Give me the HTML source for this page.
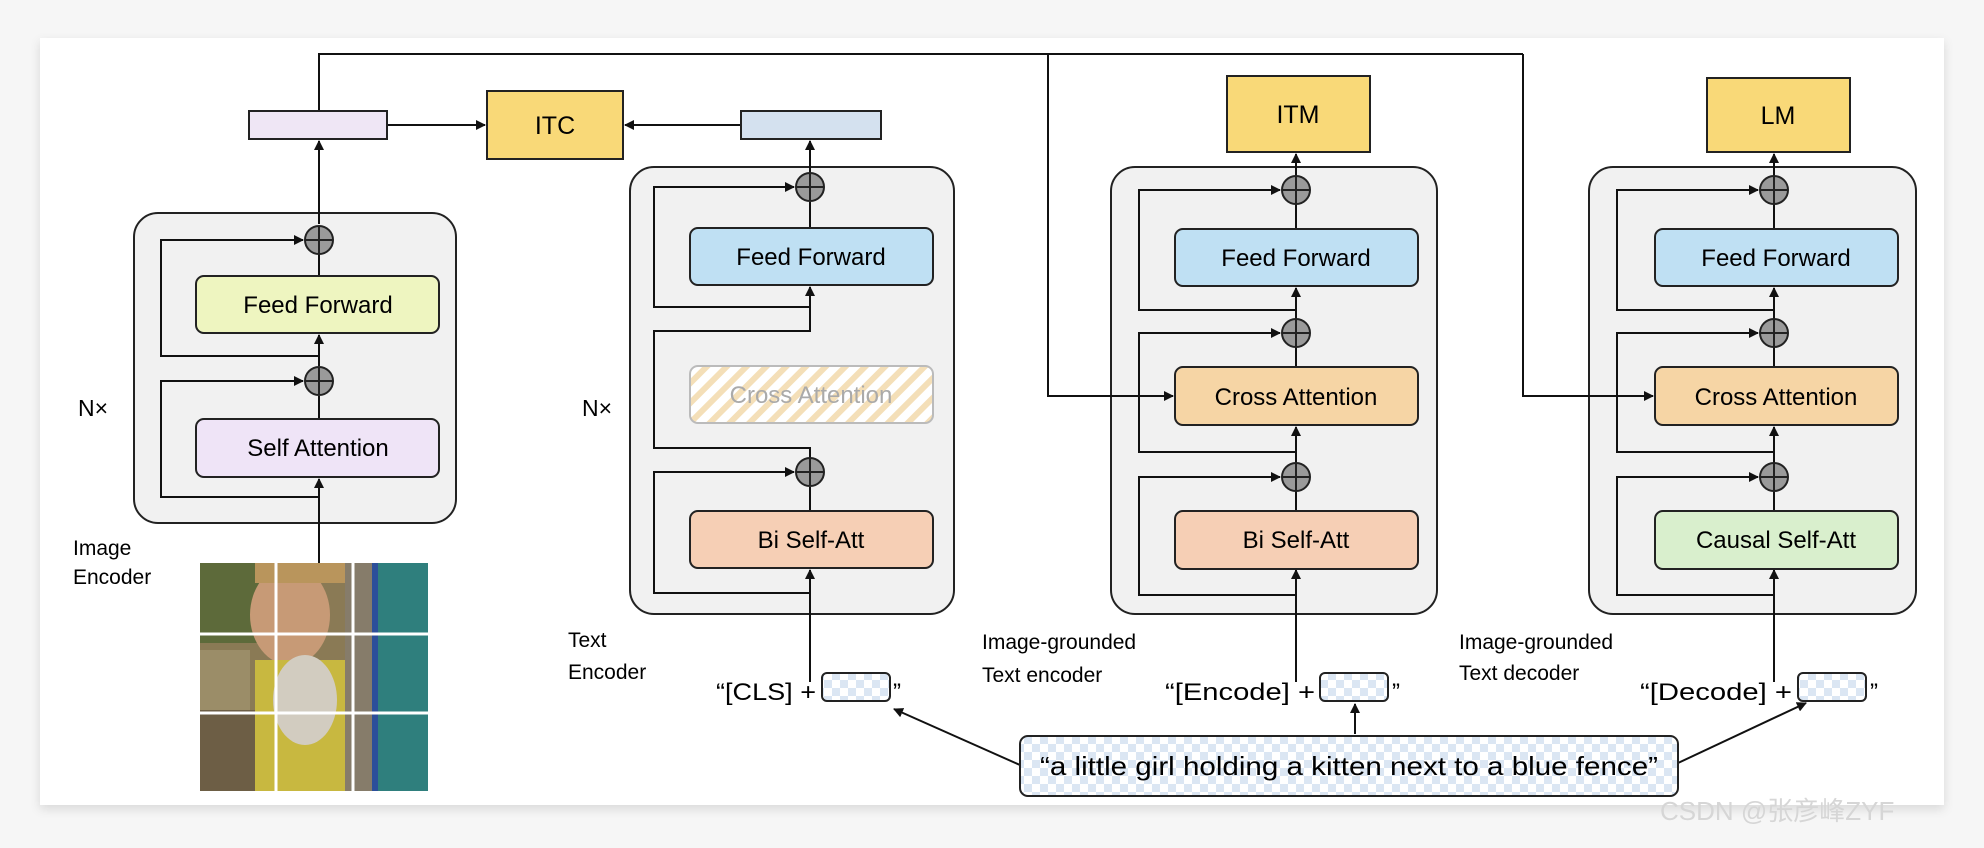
<!DOCTYPE html>
<html><head><meta charset="utf-8"><style>
html,body{margin:0;padding:0;background:#f6f6f6;}
svg{display:block;}
text{font-family:"Liberation Sans","Noto Sans CJK SC",sans-serif;}
</style></head><body>
<svg width="1984" height="848" viewBox="0 0 1984 848" xmlns="http://www.w3.org/2000/svg">
<defs>
<marker id="a" markerWidth="10" markerHeight="10" refX="9" refY="5" orient="auto" markerUnits="userSpaceOnUse"><path d="M0,0 L10,5 L0,10 z" fill="#111"/></marker>
<pattern id="hatch" width="14" height="14" patternUnits="userSpaceOnUse" patternTransform="rotate(45)"><rect width="14" height="14" fill="#fff"/><rect width="6" height="14" fill="#f4dfb8"/></pattern>
<pattern id="chk" width="16" height="16" patternUnits="userSpaceOnUse"><rect width="16" height="16" fill="#fff"/><rect width="8" height="8" fill="#dbe6f3"/><rect x="8" y="8" width="8" height="8" fill="#dbe6f3"/></pattern>
<filter id="sh" x="-5%" y="-5%" width="110%" height="115%"><feDropShadow dx="0" dy="4" stdDeviation="5" flood-color="#000" flood-opacity="0.12"/></filter>
<g id="plus"><circle r="14" fill="#9a9a9a" stroke="#222" stroke-width="2"/><path d="M-14,0 H14 M0,-14 V14" stroke="#222" stroke-width="2"/></g>
</defs>
<rect x="40" y="38" width="1904" height="767" fill="#fff" filter="url(#sh)"/>

<g stroke="#111" stroke-width="2" fill="none">
<path d="M319,111 V54 H1523"/>
<path d="M387,125 H485" marker-end="url(#a)"/>
<path d="M741,125 H625" marker-end="url(#a)"/>
</g>

<!-- top boxes -->
<rect x="249" y="111" width="138" height="28" fill="#efe6f5" stroke="#222" stroke-width="2"/>
<rect x="741" y="111" width="140" height="28" fill="#d4e1ef" stroke="#222" stroke-width="2"/>
<rect x="487" y="91" width="136" height="68" fill="#f9d978" stroke="#222" stroke-width="2"/>
<text x="555" y="134" font-size="25" text-anchor="middle">ITC</text>
<rect x="1227" y="76" width="143" height="76" fill="#f9d978" stroke="#222" stroke-width="2"/>
<text x="1298" y="123" font-size="25" text-anchor="middle">ITM</text>
<rect x="1707" y="78" width="143" height="74" fill="#f9d978" stroke="#222" stroke-width="2"/>
<text x="1778" y="124" font-size="25" text-anchor="middle">LM</text>

<!-- blocks -->
<g fill="#f1f1f1" stroke="#222" stroke-width="2">
<rect x="134" y="213" width="322" height="310" rx="24"/>
<rect x="630" y="167" width="324" height="447" rx="24"/>
<rect x="1111" y="167" width="326" height="447" rx="24"/>
<rect x="1589" y="167" width="327" height="447" rx="24"/>
</g>

<g stroke="#111" stroke-width="2" fill="none">
<path d="M1523,54 V396 H1653" marker-end="url(#a)"/>
<path d="M1048,54 V396 H1173" marker-end="url(#a)"/>
</g>

<!-- image encoder -->
<g stroke="#111" stroke-width="2" fill="none">
<path d="M319,563 V479" marker-end="url(#a)"/>
<path d="M319,419 V396"/>
<path d="M319,366 V335" marker-end="url(#a)"/>
<path d="M319,276 V252"/>
<path d="M319,224 V141" marker-end="url(#a)"/>
<path d="M319,497 H161 V381 H303" marker-end="url(#a)"/>
<path d="M319,356 H161 V240 H303" marker-end="url(#a)"/>
</g>
<rect x="196" y="276" width="243" height="57" rx="8" fill="#eef5c0" stroke="#222" stroke-width="2"/>
<text x="318" y="313" font-size="24" text-anchor="middle">Feed Forward</text>
<rect x="196" y="419" width="243" height="58" rx="8" fill="#efe4f7" stroke="#222" stroke-width="2"/>
<text x="318" y="456" font-size="24" text-anchor="middle">Self Attention</text>
<use href="#plus" x="319" y="240"/><use href="#plus" x="319" y="381"/>
<text x="78" y="416" font-size="23">N×</text>
<text x="73" y="555" font-size="21">Image</text>
<text x="73" y="584" font-size="21">Encoder</text>

<!-- photo -->
<g>
<rect x="200" y="563" width="228" height="228" fill="#8a7a55"/>
<rect x="200" y="563" width="60" height="80" fill="#5d6a3a"/>
<rect x="200" y="650" width="50" height="60" fill="#9b8d68"/>
<rect x="200" y="710" width="60" height="81" fill="#6d5e45"/>
<ellipse cx="290" cy="615" rx="40" ry="50" fill="#c79a76"/>
<rect x="255" y="660" width="90" height="131" fill="#c8b840"/>
<ellipse cx="305" cy="700" rx="32" ry="45" fill="#d2ccc0"/>
<rect x="255" y="563" width="90" height="20" fill="#b9955c"/>
<rect x="345" y="563" width="30" height="228" fill="#867c6a"/>
<rect x="375" y="563" width="53" height="228" fill="#2f7f7d"/>
<rect x="372" y="563" width="6" height="228" fill="#2c4f9a"/>
<g stroke="#fff" stroke-width="3"><path d="M276,563 V791 M353,563 V791 M200,634 H428 M200,713 H428"/></g>
</g>

<!-- text encoder -->
<g stroke="#111" stroke-width="2" fill="none">
<path d="M810,682 V570" marker-end="url(#a)"/>
<path d="M810,511 V487"/>
<path d="M810,458 V448 H654 V331 H810 V287" marker-end="url(#a)"/>
<path d="M810,228 V202"/>
<path d="M810,173 V141" marker-end="url(#a)"/>
<path d="M810,593 H654 V472 H794" marker-end="url(#a)"/>
<path d="M810,307 H654 V187 H794" marker-end="url(#a)"/>
</g>
<rect x="690" y="228" width="243" height="57" rx="8" fill="#bfe0f3" stroke="#222" stroke-width="2"/>
<text x="811" y="265" font-size="24" text-anchor="middle">Feed Forward</text>
<rect x="690" y="366" width="243" height="57" rx="8" fill="url(#hatch)" stroke="#bbb" stroke-width="2"/>
<text x="811" y="403" font-size="24" text-anchor="middle" fill="#aaa">Cross Attention</text>
<rect x="690" y="511" width="243" height="57" rx="8" fill="#f6cfb5" stroke="#222" stroke-width="2"/>
<text x="811" y="548" font-size="24" text-anchor="middle">Bi Self-Att</text>
<use href="#plus" x="810" y="187"/><use href="#plus" x="810" y="472"/>
<text x="582" y="416" font-size="23">N×</text>
<text x="568" y="647" font-size="21">Text</text>
<text x="568" y="679" font-size="21">Encoder</text>
<text x="716" y="700" font-size="24" textLength="100" lengthAdjust="spacingAndGlyphs">“[CLS] +</text>
<rect x="822" y="673" width="68" height="28" rx="5" fill="url(#chk)" stroke="#222" stroke-width="2"/>
<text x="893" y="700" font-size="24">”</text>

<!-- ITM block -->
<g stroke="#111" stroke-width="2" fill="none">
<path d="M1296,682 V570" marker-end="url(#a)"/>
<path d="M1296,511 V491"/>
<path d="M1296,463 V427" marker-end="url(#a)"/>
<path d="M1296,367 V347"/>
<path d="M1296,319 V288" marker-end="url(#a)"/>
<path d="M1296,229 V204"/>
<path d="M1296,176 V154" marker-end="url(#a)"/>
<path d="M1296,595 H1139 V477 H1280" marker-end="url(#a)"/>
<path d="M1296,452 H1139 V333 H1280" marker-end="url(#a)"/>
<path d="M1296,310 H1139 V190 H1280" marker-end="url(#a)"/>
</g>
<rect x="1175" y="229" width="243" height="57" rx="8" fill="#bfe0f3" stroke="#222" stroke-width="2"/>
<text x="1296" y="266" font-size="24" text-anchor="middle">Feed Forward</text>
<rect x="1175" y="367" width="243" height="58" rx="8" fill="#f6d5a5" stroke="#222" stroke-width="2"/>
<text x="1296" y="405" font-size="24" text-anchor="middle">Cross Attention</text>
<rect x="1175" y="511" width="243" height="58" rx="8" fill="#f6cfb5" stroke="#222" stroke-width="2"/>
<text x="1296" y="548" font-size="24" text-anchor="middle">Bi Self-Att</text>
<use href="#plus" x="1296" y="190"/><use href="#plus" x="1296" y="333"/><use href="#plus" x="1296" y="477"/>
<text x="982" y="649" font-size="21">Image-grounded</text>
<text x="982" y="682" font-size="21">Text encoder</text>
<text x="1165" y="700" font-size="24" textLength="150" lengthAdjust="spacingAndGlyphs">“[Encode] +</text>
<rect x="1320" y="673" width="68" height="28" rx="5" fill="url(#chk)" stroke="#222" stroke-width="2"/>
<text x="1392" y="700" font-size="24">”</text>

<!-- LM block -->
<g stroke="#111" stroke-width="2" fill="none">
<path d="M1774,682 V570" marker-end="url(#a)"/>
<path d="M1774,511 V491"/>
<path d="M1774,463 V427" marker-end="url(#a)"/>
<path d="M1774,367 V347"/>
<path d="M1774,319 V288" marker-end="url(#a)"/>
<path d="M1774,229 V204"/>
<path d="M1774,176 V154" marker-end="url(#a)"/>
<path d="M1774,595 H1617 V477 H1758" marker-end="url(#a)"/>
<path d="M1774,452 H1617 V333 H1758" marker-end="url(#a)"/>
<path d="M1774,310 H1617 V190 H1758" marker-end="url(#a)"/>
</g>
<rect x="1655" y="229" width="243" height="57" rx="8" fill="#bfe0f3" stroke="#222" stroke-width="2"/>
<text x="1776" y="266" font-size="24" text-anchor="middle">Feed Forward</text>
<rect x="1655" y="367" width="243" height="58" rx="8" fill="#f6d5a5" stroke="#222" stroke-width="2"/>
<text x="1776" y="405" font-size="24" text-anchor="middle">Cross Attention</text>
<rect x="1655" y="511" width="243" height="58" rx="8" fill="#d9efcd" stroke="#222" stroke-width="2"/>
<text x="1776" y="548" font-size="24" text-anchor="middle">Causal Self-Att</text>
<use href="#plus" x="1774" y="190"/><use href="#plus" x="1774" y="333"/><use href="#plus" x="1774" y="477"/>
<text x="1459" y="649" font-size="21">Image-grounded</text>
<text x="1459" y="680" font-size="21">Text decoder</text>
<text x="1640" y="700" font-size="24" textLength="152" lengthAdjust="spacingAndGlyphs">“[Decode] +</text>
<rect x="1798" y="673" width="68" height="28" rx="5" fill="url(#chk)" stroke="#222" stroke-width="2"/>
<text x="1870" y="700" font-size="24">”</text>

<!-- caption -->
<g stroke="#111" stroke-width="2" fill="none">
<path d="M1020,765 L894,709" marker-end="url(#a)"/>
<path d="M1355,734 V704" marker-end="url(#a)"/>
<path d="M1678,763 L1806,703" marker-end="url(#a)"/>
</g>
<rect x="1020" y="736" width="658" height="60" rx="8" fill="url(#chk)" stroke="#222" stroke-width="2"/>
<text x="1040" y="775" font-size="26" textLength="618" lengthAdjust="spacingAndGlyphs">“a little girl holding a kitten next to a blue fence”</text>

<text x="1660" y="820" font-size="26" fill="#d6d6d6">CSDN @张彦峰ZYF</text>
</svg>
</body></html>
